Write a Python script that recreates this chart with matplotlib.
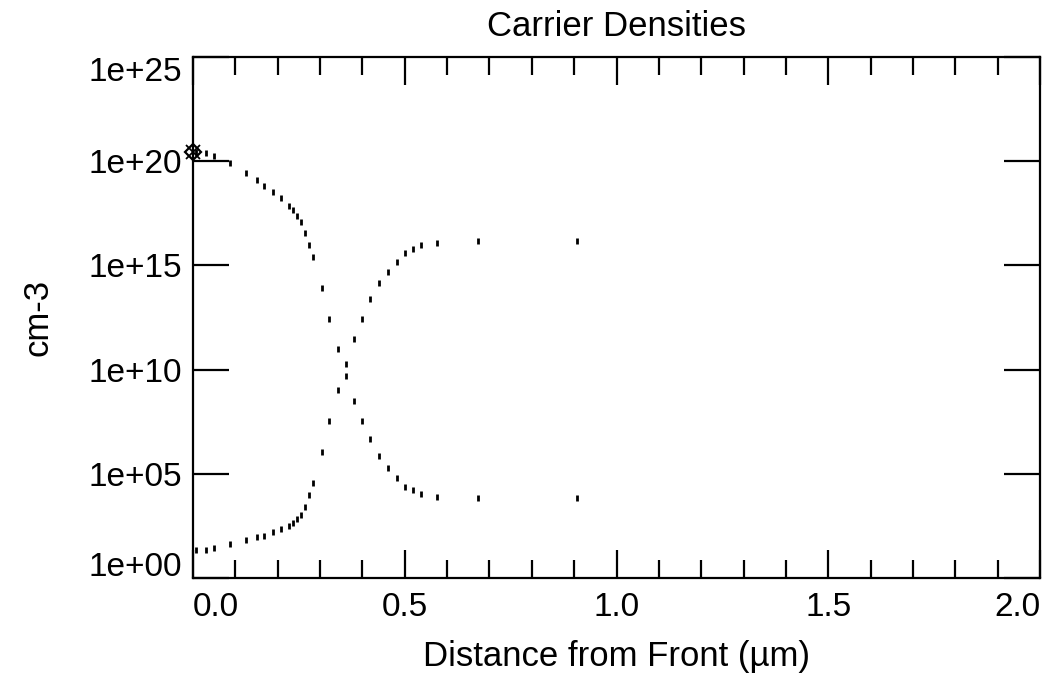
import matplotlib
matplotlib.use("Agg")
import matplotlib.pyplot as plt
import matplotlib.transforms as mtransforms
import numpy as np

# Depth grid (µm) and log10 carrier densities (cm-3)
depth = [0.007, 0.031, 0.050, 0.087, 0.125, 0.151, 0.168, 0.189, 0.208, 0.227,
         0.236, 0.246, 0.255, 0.264, 0.274, 0.283, 0.305, 0.321, 0.342, 0.361,
         0.380, 0.399, 0.418, 0.439, 0.460, 0.482, 0.501, 0.519, 0.538, 0.576,
         0.673, 0.907]
log_n = [20.44, 20.39, 20.25, 19.91, 19.43, 19.10, 18.81, 18.52, 18.23, 17.85,
         17.66, 17.37, 17.08, 16.55, 15.98, 15.40, 13.92, 12.43, 10.99, 9.69,
         8.49, 7.53, 6.67, 5.85, 5.28, 4.80, 4.37, 4.22, 4.03, 3.89,
         3.84, 3.84]
log_p = [1.34, 1.34, 1.44, 1.63, 1.82, 1.97, 2.02, 2.21, 2.35, 2.50,
         2.64, 2.83, 3.02, 3.41, 3.98, 4.56, 6.05, 7.53, 9.02, 10.27,
         11.47, 12.43, 13.39, 14.16, 14.68, 15.16, 15.60, 15.79, 15.98, 16.07,
         16.17, 16.17]
# front-surface marker
front_x = [0.0]
front_log = [20.44]

x_ticks = [0.0, 0.5, 1.0, 1.5, 2.0]
x_tick_labels = ["0.0", "0.5", "1.0", "1.5", "2.0"]
y_ticks = [1e0, 1e5, 1e10, 1e15, 1e20, 1e25]
y_tick_labels = ["1e+00", "1e+05", "1e+10", "1e+15", "1e+20", "1e+25"]

plt.rcParams['font.family'] = ['Liberation Sans', 'DejaVu Sans']

fig = plt.figure(figsize=(10.44, 6.77), dpi=100)
ax = fig.add_axes([193/1044, 1 - 578/677, (1040 - 193)/1044, (578 - 57)/677])

n_vals = 10.0 ** np.array(log_n)
p_vals = 10.0 ** np.array(log_p)

mk = dict(linestyle='none', marker='|', color='black', markersize=5,
          markeredgewidth=2.0)
ax.plot(depth, n_vals, **mk)
ax.plot(depth, p_vals, **mk)

fy = 10.0 ** np.array(front_log)
ax.plot(front_x, fy, linestyle='none', marker='D', markersize=8,
        markerfacecolor='none', markeredgecolor='black', markeredgewidth=1.6,
        clip_on=False, zorder=5)
ax.plot(front_x, fy, linestyle='none', marker='x', markersize=10,
        color='black', markeredgewidth=1.3, clip_on=False, zorder=5)

ax.set_yscale('log')
ax.set_xlim(0.0, 2.0)
ax.set_ylim(1e0, 1e25)

fs = 24
ax.set_xticks(x_ticks)
ax.set_xticklabels(x_tick_labels, fontsize=fs)
ax.set_xticks(np.arange(0.1, 2.0, 0.1), minor=True)
ax.set_yticks(y_ticks)
ax.set_yticklabels(y_tick_labels, fontsize=fs)
ax.yaxis.set_minor_locator(matplotlib.ticker.NullLocator())

ax.tick_params(axis='x', which='major', direction='in', length=20, width=1.6,
               top=True, bottom=True, pad=10)
ax.tick_params(axis='x', which='minor', direction='in', length=13, width=1.6,
               top=True, bottom=True)
ax.tick_params(axis='y', which='major', direction='in', length=26, width=1.6,
               left=True, right=True, pad=8)

# end labels are pulled inside the axis range
xl = ax.get_xticklabels()
xl[0].set_horizontalalignment('left')
xl[-1].set_horizontalalignment('right')
yl = ax.get_yticklabels()
yl[0].set_verticalalignment('center')
yl[0].set_transform(yl[0].get_transform()
                    + mtransforms.ScaledTranslation(0, 10 / 100, fig.dpi_scale_trans))
yl[-1].set_verticalalignment('top')

for s in ax.spines.values():
    s.set_linewidth(1.6)

ax.set_title("Carrier Densities", fontsize=25, pad=15)
ax.set_xlabel("Distance from Front (µm)", fontsize=25, labelpad=12)
ax.set_ylabel("cm-3", fontsize=25, labelpad=24)

fig.savefig("out.png", dpi=100)
